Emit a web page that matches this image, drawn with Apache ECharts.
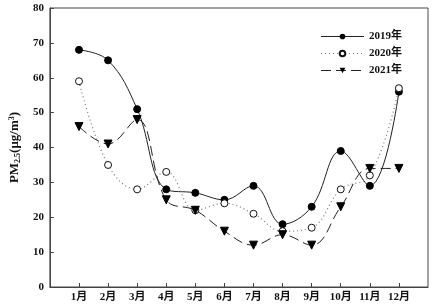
<!DOCTYPE html>
<html>
<head>
<meta charset="utf-8">
<script src="https://cdn.jsdelivr.net/npm/echarts@6/dist/echarts.min.js"></script>
<style>
  html, body { margin: 0; padding: 0; background: #fff; }
  #chart { width: 433px; height: 305px; }
</style>
</head>
<body>
<div id="chart"></div>
<script>
// 月份 (x 轴 1..12)
const months = [1, 2, 3, 4, 5, 6, 7, 8, 9, 10, 11, 12]
const monthLabels = ['1月', '2月', '3月', '4月', '5月', '6月', '7月', '8月', '9月', '10月', '11月', '12月']
const seriesNames = ['2019年', '2020年', '2021年']
const pm2019 = [68, 65, 51, 28, 27, 25, 29, 18, 23, 39, 29, 56]
const pm2020 = [59, 35, 28, 33, 22, 24, 21, 16, 17, 28, 32, 57]
const pm2021 = [46, 41, 48, 25, 22, 16, 12, 15, 12, 23, 34, 34]
const yTicks = [0, 10, 20, 30, 40, 50, 60, 70, 80]

const font = "'Liberation Serif', 'Times New Roman', 'Noto Sans CJK SC', serif"
const pair = (vals) => months.map((m, i) => [m, vals[i]])

const chart = echarts.init(document.getElementById('chart'))
const option = {
  animation: false,
  backgroundColor: '#fff',
  textStyle: { fontFamily: font },
  grid: {
    left: 39, right: 5, top: 8, bottom: 18,
    show: true, borderColor: '#444', borderWidth: 1
  },
  legend: {
    orient: 'vertical',
    right: 26,
    top: 26,
    itemWidth: 43,
    itemHeight: 7,
    itemGap: 6,
    data: seriesNames,
    lineStyle: { width: 1 },
    textStyle: { fontFamily: font, fontSize: 11, fontWeight: 'bold', color: '#111' }
  },
  xAxis: {
    type: 'value',
    min: 0,
    max: 13,
    interval: 1,
    axisLine: { lineStyle: { color: '#444' } },
    axisTick: { inside: true, length: 4, lineStyle: { color: '#444' } },
    splitLine: { show: false },
    axisLabel: {
      margin: 5,
      fontSize: 11,
      fontWeight: 'bold',
      color: '#111',
      showMinLabel: false,
      showMaxLabel: false,
      formatter: (v) => monthLabels[v - 1] || ''
    }
  },
  yAxis: {
    type: 'value',
    min: yTicks[0],
    max: yTicks[yTicks.length - 1],
    interval: 10,
    name: 'PM{sub|2.5}(μg/m{sup|3})',
    nameLocation: 'middle',
    nameGap: 27,
    nameTextStyle: {
      fontFamily: font,
      fontSize: 13,
      fontWeight: 'bold',
      color: '#111',
      rich: {
        sub: { fontSize: 8, fontWeight: 'bold', verticalAlign: 'bottom', padding: [6, 0, 0, 0], fontFamily: font },
        sup: { fontSize: 8, fontWeight: 'bold', verticalAlign: 'top', padding: [0, 0, 6, 0], fontFamily: font }
      }
    },
    axisLine: { show: true, lineStyle: { color: '#444' } },
    axisTick: { inside: true, length: 4, lineStyle: { color: '#444' } },
    splitLine: { show: false },
    axisLabel: { margin: 6, fontSize: 11, fontWeight: 'bold', color: '#111' }
  },
  series: [
    {
      name: seriesNames[0],
      type: 'line',
      smooth: 0.4,
      data: pair(pm2019),
      symbol: 'circle',
      symbolSize: 7,
      itemStyle: { color: '#000', borderColor: '#000' },
      lineStyle: { color: '#222', width: 1 }
    },
    {
      name: seriesNames[1],
      type: 'line',
      smooth: 0.4,
      data: pair(pm2020),
      symbol: 'circle',
      symbolSize: 7,
      itemStyle: { color: '#fff', borderColor: '#111', borderWidth: 1 },
      lineStyle: { color: '#777', width: 1.2, type: [1, 3] }
    },
    {
      name: seriesNames[2],
      type: 'line',
      smooth: 0.4,
      data: pair(pm2021),
      symbol: 'triangle',
      symbolRotate: 180,
      symbolSize: 8,
      itemStyle: { color: '#000', borderColor: '#000' },
      lineStyle: { color: '#222', width: 1, type: [10, 5] }
    }
  ]
}
chart.setOption(option)
</script>
</body>
</html>
